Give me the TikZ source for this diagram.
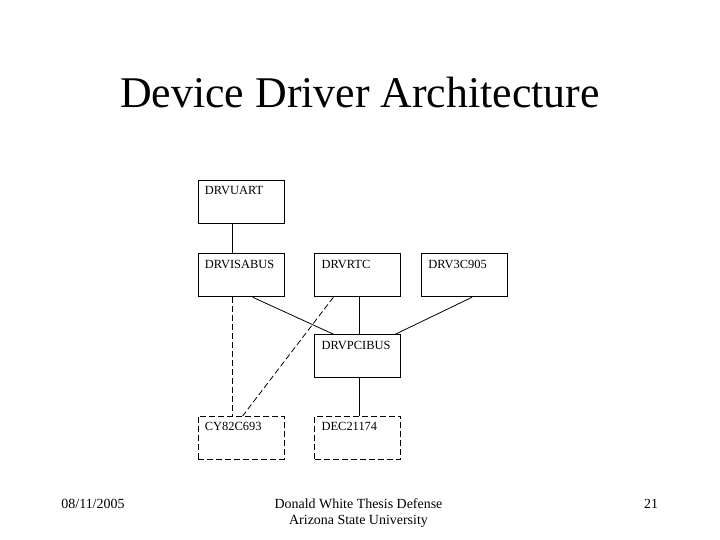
\documentclass[tikz,border=0pt]{standalone}
\usepackage{fontspec}
\setmainfont{Liberation Serif}
\usepackage{tikz}
\usetikzlibrary{positioning,calc}

\begin{document}
\begin{tikzpicture}[
  x=1bp, y=1bp,
  drvbox/.style={rectangle, draw, line width=0.8pt,
                 minimum width=86bp, minimum height=43bp, inner sep=0pt,
                 label={[boxtext]north west:#1}},
  extbox/.style={drvbox=#1, dash pattern=on 6bp off 3bp},
  boxtext/.style={anchor=base west, inner sep=0pt, xshift=7bp, yshift=-15bp,
                  font=\fontsize{12.5}{14}\selectfont},
  link/.style={line width=0.8pt},
  extlink/.style={link, dash pattern=on 6bp off 3bp},
  foot/.style={anchor=base, inner sep=0pt, font=\fontsize{14}{16}\selectfont},
  node distance=30bp
]
  \useasboundingbox (0,0) rectangle (720,540);

  % Title
  \node[anchor=base, inner sep=0pt, font=\fontsize{44}{50}\selectfont]
    (title) at (360,432) {Device Driver Architecture};

  % Driver boxes
  \node[drvbox=DRVUART] (uart) at (241,338.5) {};
  \node[drvbox=DRVISABUS, below=30bp of uart] (isabus) {};
  \node[drvbox=DRVRTC, right=30bp of isabus] (rtc) {};
  \node[drvbox=DRV3C905, right=20bp of rtc] (nic) {};
  \node[drvbox=DRVPCIBUS, below=37bp of rtc] (pcibus) {};

  % Hardware (dashed)
  \node[extbox=DEC21174, below=38bp of pcibus] (dec) {};
  \node[extbox=CY82C693, left=30bp of dec] (cy) {};

  % Connections
  \draw[link] ($(uart.south west)+(35bp,0)$) -- ($(isabus.north west)+(35bp,0)$);
  \draw[link] ($(isabus.south west)+(55bp,0)$) -- ($(pcibus.north west)+(19bp,0)$);
  \draw[link] ($(rtc.south west)+(45bp,0)$) -- ($(pcibus.north west)+(45bp,0)$);
  \draw[link] ($(nic.south west)+(51bp,0)$) -- ($(pcibus.north west)+(81bp,0)$);
  \draw[link] ($(pcibus.south west)+(45bp,0)$) -- ($(dec.north west)+(45bp,0)$);
  \draw[extlink] ($(isabus.south west)+(35bp,0)$) -- ($(cy.north west)+(35bp,0)$);
  \draw[extlink] ($(rtc.south west)+(19bp,0)$) -- ($(cy.north west)+(45bp,0)$);

  % Footer
  \node[foot] (date) at (93,31) {08/11/2005};
  \node[foot] (event) at (358.5,31) {Donald White Thesis Defense};
  \node[foot] (school) at (358.5,15) {Arizona State University};
  \node[foot] (page) at (651,31) {21};
\end{tikzpicture}
\end{document}
